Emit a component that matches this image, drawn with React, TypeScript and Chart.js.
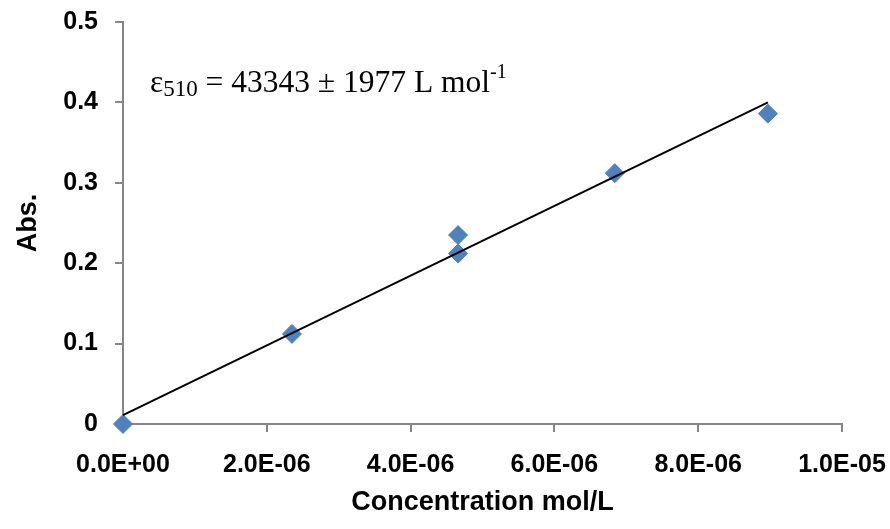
import React, { useEffect, useRef } from "react";
import { Chart, registerables } from "chart.js";

Chart.register(...registerables);

// Measured data (concentration in mol/L, absorbance)
const concentration = [0, 2.35e-6, 4.66e-6, 4.66e-6, 6.84e-6, 8.97e-6];
const absorbance = [0.0, 0.112, 0.235, 0.212, 0.312, 0.386];

// Linear fit endpoints (trend line)
const fitX = [0, 8.97e-6];
const fitY = [0.011, 0.4];

// Axis ticks
const xTicks = [0, 2e-6, 4e-6, 6e-6, 8e-6, 1e-5];
const yTicks = [0, 0.1, 0.2, 0.3, 0.4, 0.5];

const annotationMain = "ε";
const annotationSub = "510";
const annotationRest = " = 43343 ± 1977 L mol";
const annotationSup = "-1";

function fmtSci(v: number): string {
  const [m, e] = v.toExponential(1).split("e");
  const exp = parseInt(e, 10);
  const sign = exp < 0 ? "-" : "+";
  return `${m}E${sign}${String(Math.abs(exp)).padStart(2, "0")}`;
}

const annotationPlugin = {
  id: "epsAnnotation",
  afterDatasetsDraw(chart: any) {
    const ctx = chart.ctx as CanvasRenderingContext2D;
    const area = chart.chartArea;
    ctx.save();
    ctx.fillStyle = "#000";
    ctx.textBaseline = "alphabetic";
    ctx.textAlign = "left";
    const serif = "'Liberation Serif', 'Times New Roman', serif";
    let x = area.left + 27;
    const base = area.top + 70;
    ctx.font = `31.5px ${serif}`;
    ctx.fillText(annotationMain, x, base);
    x += ctx.measureText(annotationMain).width;
    ctx.font = `23px ${serif}`;
    ctx.fillText(annotationSub, x, base + 4);
    x += ctx.measureText(annotationSub).width;
    ctx.font = `31.5px ${serif}`;
    ctx.fillText(annotationRest, x, base);
    x += ctx.measureText(annotationRest).width;
    ctx.font = `20px ${serif}`;
    ctx.fillText(annotationSup, x, base - 14);
    ctx.restore();
  },
};

export default function App() {
  const canvasRef = useRef<HTMLCanvasElement | null>(null);

  useEffect(() => {
    if (!canvasRef.current) return;
    const axisColor = "#868686";
    const sans = "'Liberation Sans', Arial, sans-serif";
    const tickFont = { family: sans, size: 25, weight: "bold" as const };
    const titleFont = { family: sans, size: 27, weight: "bold" as const };

    const chart = new Chart(canvasRef.current, {
      type: "scatter",
      data: {
        datasets: [
          {
            type: "line",
            label: "Fit",
            data: fitX.map((x, i) => ({ x, y: fitY[i] })),
            borderColor: "#000000",
            borderWidth: 2,
            pointRadius: 0,
            fill: false,
            showLine: true,
            clip: false,
          },
          {
            type: "scatter",
            label: "Abs.",
            data: concentration.map((x, i) => ({ x, y: absorbance[i] })),
            pointStyle: "rectRot",
            pointRadius: 9.5,
            backgroundColor: "#4F81BD",
            borderColor: "#4F81BD",
            borderWidth: 1,
            clip: false,
          },
        ],
      },
      options: {
        animation: false,
        responsive: true,
        maintainAspectRatio: false,
        layout: { padding: { top: 22, right: 48, left: 0, bottom: 0 } },
        plugins: {
          legend: { display: false },
          tooltip: { enabled: false },
        },
        scales: {
          x: {
            type: "linear",
            min: 0,
            max: 1e-5,
            afterBuildTicks: (s: any) => {
              s.ticks = xTicks.map((v) => ({ value: v }));
            },
            afterFit: (s: any) => {
              s.height = 105;
              s.paddingLeft = 0;
              s.paddingRight = 0;
              s.paddingTop = 0;
              s.paddingBottom = 0;
            },
            grid: {
              drawOnChartArea: false,
              drawTicks: true,
              tickLength: 8,
              color: axisColor,
              lineWidth: 2,
            },
            border: { display: true, color: axisColor, width: 2 },
            ticks: {
              color: "#000",
              font: tickFont,
              padding: 18,
              maxRotation: 0,
              autoSkip: false,
              callback: (v: any) => fmtSci(Number(v)),
            },
            title: {
              display: true,
              text: "Concentration mol/L",
              color: "#000",
              font: titleFont,
              padding: { top: 0, bottom: 10 },
            },
          },
          y: {
            type: "linear",
            min: 0,
            max: 0.5,
            afterBuildTicks: (s: any) => {
              s.ticks = yTicks.map((v) => ({ value: v }));
            },
            afterFit: (s: any) => {
              s.width = 123;
              s.paddingLeft = 0;
              s.paddingRight = 0;
              s.paddingTop = 0;
              s.paddingBottom = 0;
            },
            grid: {
              drawOnChartArea: false,
              drawTicks: true,
              tickLength: 8,
              color: axisColor,
              lineWidth: 2,
            },
            border: { display: true, color: axisColor, width: 2 },
            ticks: {
              color: "#000",
              font: tickFont,
              padding: 17,
              autoSkip: false,
              callback: (v: any) => (Number(v) === 0 ? "0" : Number(v).toFixed(1)),
            },
            title: {
              display: true,
              text: "Abs.",
              color: "#000",
              font: titleFont,
              padding: { top: 12, bottom: 0 },
            },
          },
        },
      },
      plugins: [annotationPlugin],
    });
    return () => chart.destroy();
  }, []);

  return (
    <div style={{ position: "absolute", left: 0, top: 0, width: 890, height: 529, background: "#fff" }}>
      <canvas ref={canvasRef} />
    </div>
  );
}
